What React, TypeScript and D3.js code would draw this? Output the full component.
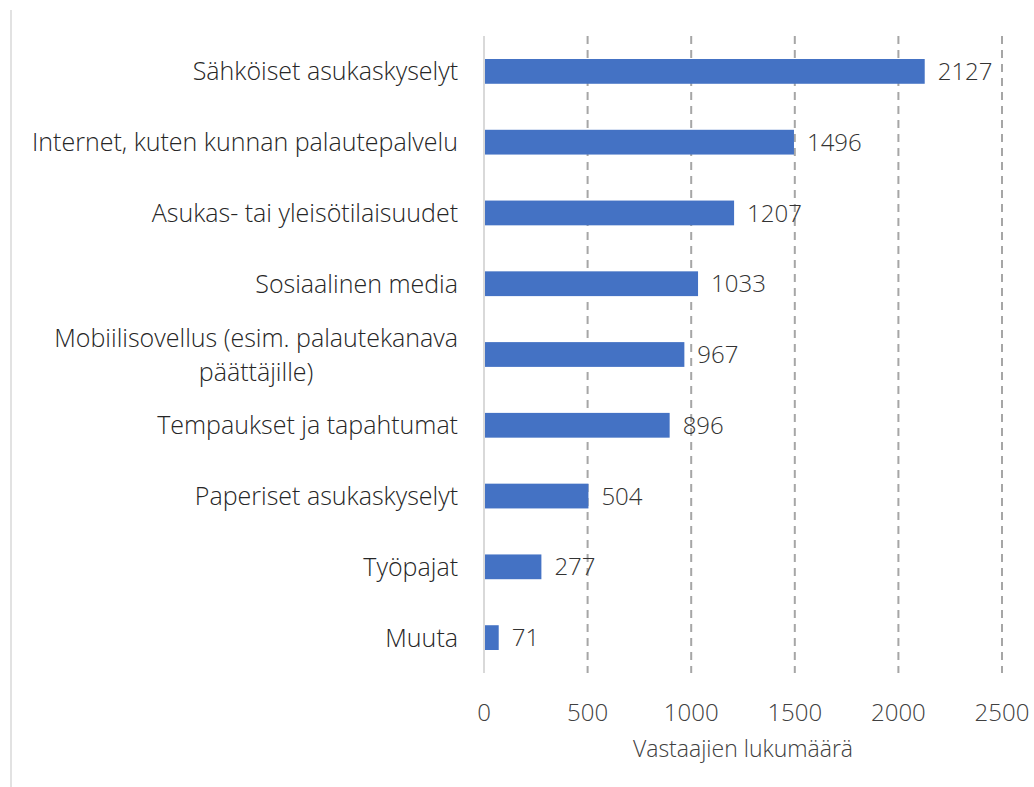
import React, { useEffect, useRef } from 'react';
import * as d3 from 'd3';

// chart data
const categories = [
  'Sähköiset asukaskyselyt',
  'Internet, kuten kunnan palautepalvelu',
  'Asukas- tai yleisötilaisuudet',
  'Sosiaalinen media',
  'Mobiilisovellus (esim. palautekanava|päättäjille)',
  'Tempaukset ja tapahtumat',
  'Paperiset asukaskyselyt',
  'Työpajat',
  'Muuta',
];
const values = [2127, 1496, 1207, 1033, 967, 896, 504, 277, 71];
const xTicks = [0, 500, 1000, 1500, 2000, 2500];
const axisTitle = 'Vastaajien lukumäärä';

const W = 1034;
const H = 787;
const FONT = '"Open Sans", Lato, sans-serif';

const App = () => {
  const svgRef = useRef<SVGSVGElement>(null);

  useEffect(() => {
    document.body.style.margin = '0';
    const svg = d3.select(svgRef.current);
    svg.selectAll('*').remove();

    const x = d3.scaleLinear().domain([0, 2500]).range([484, 1002]);
    const y = d3
      .scaleBand()
      .domain(categories)
      .range([36, 673])
      .paddingInner(0.65)
      .paddingOuter(0.325);

    // frame line on the left
    svg
      .append('line')
      .attr('x1', 11)
      .attr('x2', 11)
      .attr('y1', 10)
      .attr('y2', H)
      .attr('stroke', '#d9d9d9')
      .attr('stroke-width', 1.5);

    // dashed gridlines
    svg
      .append('g')
      .selectAll('line')
      .data(xTicks.filter((t) => t > 0))
      .enter()
      .append('line')
      .attr('x1', (d) => x(d))
      .attr('x2', (d) => x(d))
      .attr('y1', 36)
      .attr('y2', 673)
      .attr('stroke', '#a6a6a6')
      .attr('stroke-width', 2)
      .attr('stroke-dasharray', '8,6');

    // bars
    svg
      .append('g')
      .selectAll('rect')
      .data(values)
      .enter()
      .append('rect')
      .attr('x', x(0))
      .attr('y', (d, i) => y(categories[i])!)
      .attr('width', (d) => x(d) - x(0))
      .attr('height', y.bandwidth())
      .attr('fill', '#4472c4');

    // zero axis line
    svg
      .append('line')
      .attr('x1', x(0))
      .attr('x2', x(0))
      .attr('y1', 36)
      .attr('y2', 673)
      .attr('stroke', '#d9d9d9')
      .attr('stroke-width', 2);

    // value labels
    svg
      .append('g')
      .selectAll('text')
      .data(values)
      .enter()
      .append('text')
      .attr('x', (d) => x(d) + 13)
      .attr('y', (d, i) => y(categories[i])! + y.bandwidth() / 2)
      .attr('dy', '0.36em')
      .attr('fill', '#333333')
      .style('font-family', FONT)
      .style('font-weight', 300)
      .style('font-size', '24px')
      .text((d) => d);

    // category labels, multi-line ones centred within the block
    const catG = svg.append('g');
    categories.forEach((c) => {
      const lines = c.split('|');
      const cy = y(c)! + y.bandwidth() / 2;
      const lh = 34;
      const t = catG
        .append('text')
        .attr('fill', '#262626')
        .style('font-family', FONT)
        .style('font-weight', 300)
        .style('font-size', '25px');
      lines.forEach((ln, j) => {
        t.append('tspan')
          .attr('y', cy + (j - (lines.length - 1) / 2) * lh)
          .attr('dy', '0.36em')
          .text(ln);
      });
      if (lines.length === 1) {
        t.attr('text-anchor', 'end').selectAll('tspan').attr('x', 458);
      } else {
        // measure widest line, centre others on it
        const spans = t.selectAll<SVGTSpanElement, unknown>('tspan').nodes();
        const widths = spans.map((s) => s.getComputedTextLength());
        const maxW = Math.max(...widths);
        const mid = 458 - maxW / 2;
        t.attr('text-anchor', 'middle').selectAll('tspan').attr('x', mid);
      }
    });

    // x tick labels
    svg
      .append('g')
      .selectAll('text')
      .data(xTicks)
      .enter()
      .append('text')
      .attr('x', (d) => x(d))
      .attr('y', 712)
      .attr('dy', '0.36em')
      .attr('text-anchor', 'middle')
      .attr('fill', '#404040')
      .style('font-family', FONT)
      .style('font-weight', 300)
      .style('font-size', '24px')
      .text((d) => d);

    // axis title
    svg
      .append('text')
      .attr('x', 743)
      .attr('y', 749)
      .attr('dy', '0.36em')
      .attr('text-anchor', 'middle')
      .attr('fill', '#404040')
      .style('font-family', FONT)
      .style('font-weight', 300)
      .style('font-size', '23px')
      .text(axisTitle);
  }, []);

  return <svg ref={svgRef} width={W} height={H} style={{ display: 'block', background: '#fff' }} />;
};

export default App;
